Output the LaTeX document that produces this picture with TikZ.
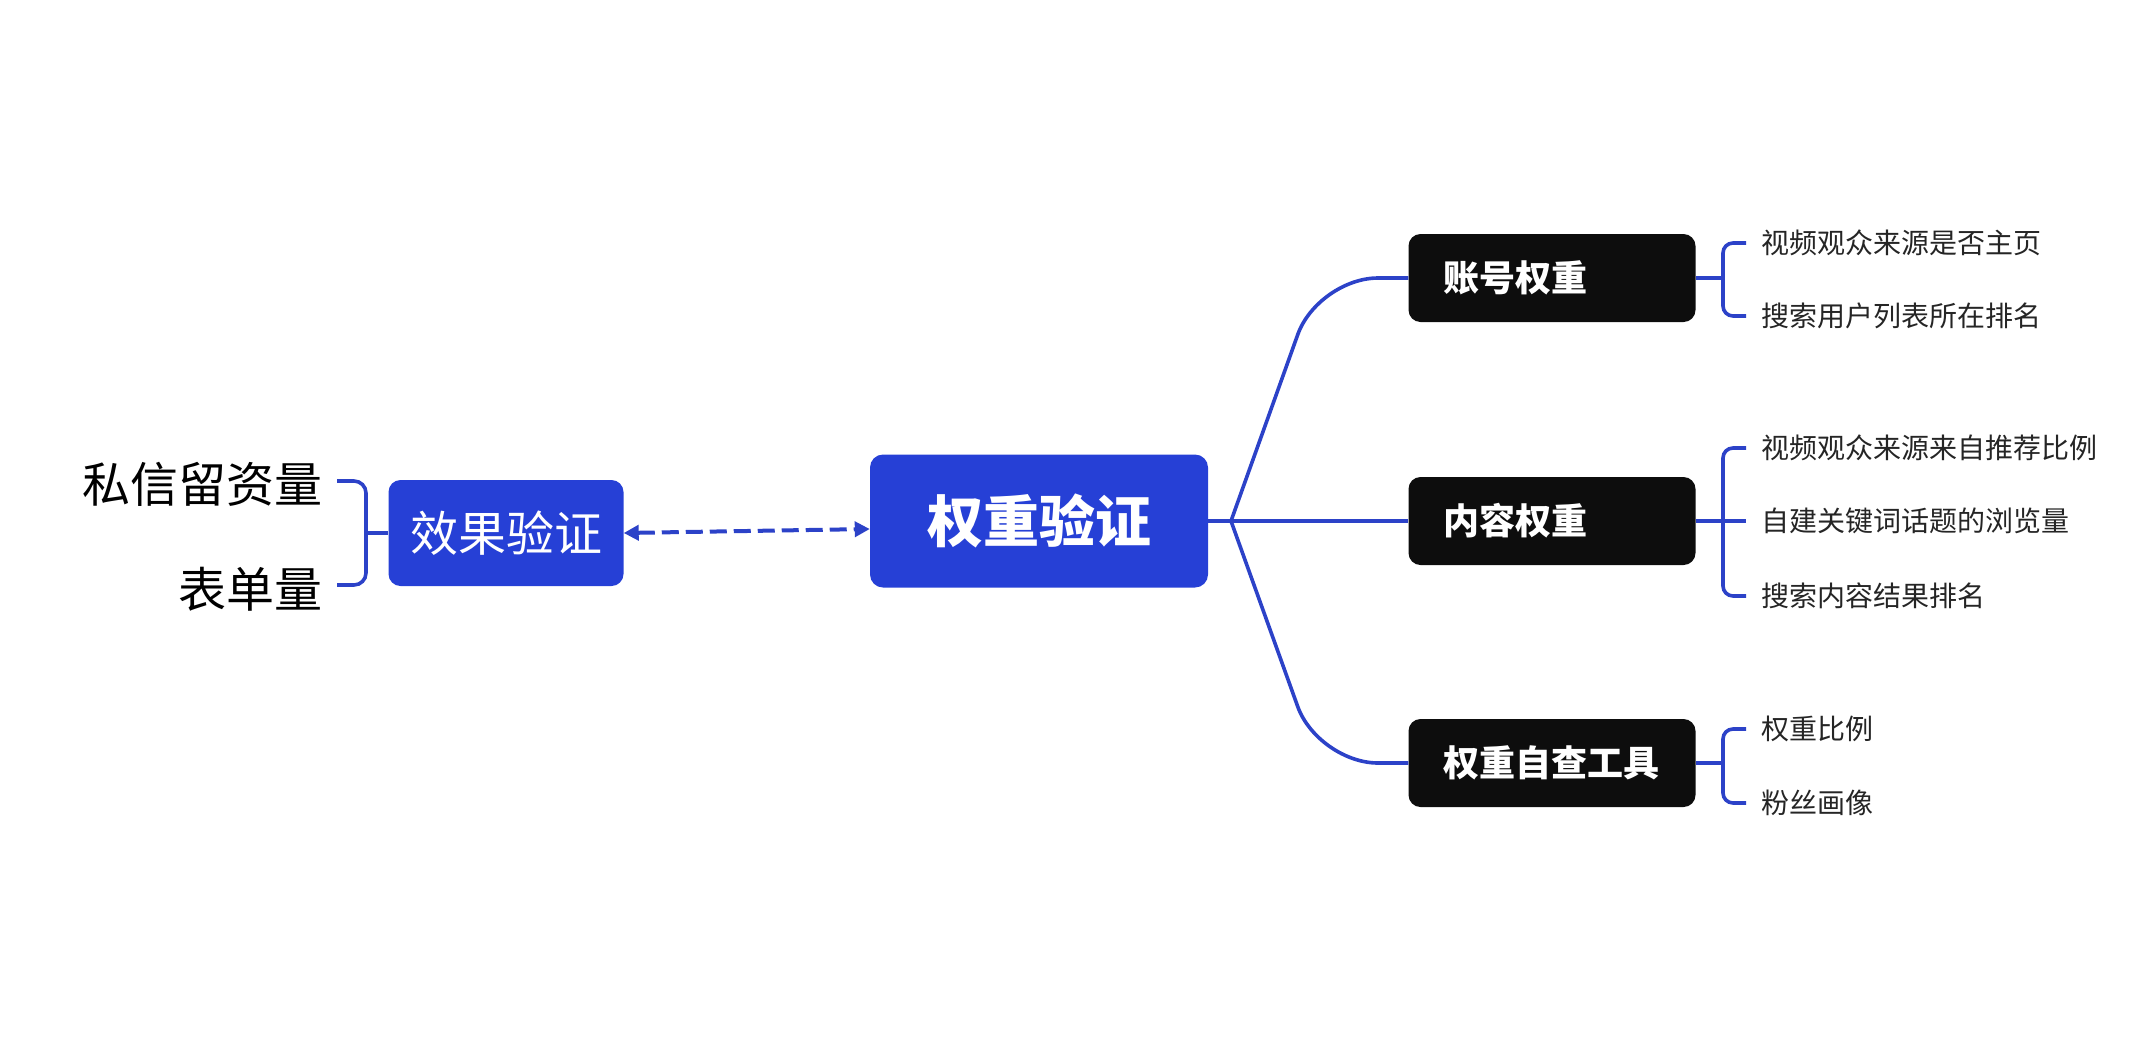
\documentclass[tikz,border=0pt]{standalone}
\usepackage{fontspec}
\setmainfont{Noto Sans CJK SC}
\usetikzlibrary{arrows.meta,calc}
\definecolor{blau}{RGB}{38,64,214}
\definecolor{linie}{RGB}{44,66,200}
\definecolor{schwarz}{RGB}{13,13,13}

\begin{document}
\begin{tikzpicture}[x=1pt,y=-1pt,
  blaubox/.style={fill=blau,rounded corners=13pt,text=white,inner sep=0pt},
  schwarzbox/.style={fill=schwarz,rounded corners=12pt,text=white,minimum height=88pt,text width=217pt,inner xsep=35pt,inner ysep=0pt,align=left,font=\fontsize{36}{40}\selectfont\bfseries},
  blatt/.style={text=schwarz!90,inner sep=0pt,anchor=west,font=\fontsize{28}{32}\selectfont},
  ast/.style={draw=linie,line width=3.6pt}]

\useasboundingbox (0,0) rectangle (2137,1045);

%Mitte
\node[blaubox,minimum width=338pt,minimum height=133pt,font=\fontsize{56}{60}\selectfont\bfseries] (gewicht) at (1039,521) {权重验证};

%links
\node[blaubox,rounded corners=12pt,minimum width=235pt,minimum height=106pt,font=\fontsize{48}{52}\selectfont] (effekt) at (506,533) {效果验证};
\node[anchor=east,inner sep=0pt,font=\fontsize{48}{52}\selectfont] (privat) at (323,484) {私信留资量};
\node[anchor=east,inner sep=0pt,font=\fontsize{48}{52}\selectfont] (formular) at (323,589) {表单量};

\coordinate (kl1) at (337,481);
\coordinate (kl2) at (337,585);
\coordinate (klm) at (366,533);
\draw[ast,rounded corners=12pt] (kl1) -- (kl1 -| klm) -- (kl2 -| klm) -- (kl2);
\draw[ast] (klm) -- (effekt.west);

\draw[ast,line width=4pt,dash pattern=on 17pt off 7pt,{Triangle[length=15pt,width=15pt]}-{Triangle[length=15pt,width=15pt]}] (effekt.east) -- ($(gewicht.west)+(0,8)$);

%rechts
\coordinate (gabel) at (1231,521);
\node[schwarzbox] (konto) at (1552,278) {账号权重};
\node[schwarzbox] (inhalt) at (1552,521) {内容权重};
\node[schwarzbox] (werkzeug) at (1552,763) {权重自查工具};

\draw[ast] (gewicht.east) -- (gabel) -- (inhalt.west);
\coordinate (knick1) at (1318,278);
\coordinate (knick2) at (1318,763);
\draw[ast,rounded corners=60pt] (gabel) -- (knick1) -- (konto.west);
\draw[ast,rounded corners=60pt] (gabel) -- (knick2) -- (werkzeug.west);

\node[blatt] (k1) at (1761,243) {视频观众来源是否主页};
\node[blatt] (k2) at (1761,316) {搜索用户列表所在排名};
\node[blatt] (i1) at (1761,448) {视频观众来源来自推荐比例};
\node[blatt] (i2) at (1761,521) {自建关键词话题的浏览量};
\node[blatt] (i3) at (1761,596) {搜索内容结果排名};
\node[blatt] (w1) at (1761,729) {权重比例};
\node[blatt] (w2) at (1761,803) {粉丝画像};

%Klammern
\newcommand\klammer[2]{\draw[ast,rounded corners=10pt] ($(#1.west)+(-15,0)$) -- ($(#1.west)+(-38,0)$) -- ($(#2.west)+(-38,0)$) -- ($(#2.west)+(-15,0)$);}
\klammer{k1}{k2}
\klammer{i1}{i3}
\klammer{w1}{w2}
\draw[ast] (konto.east) -- ($(konto.east)+(27,0)$);
\draw[ast] (inhalt.east) -- ($(i2.west)+(-15,0)$);
\draw[ast] (werkzeug.east) -- ($(werkzeug.east)+(27,0)$);

\end{tikzpicture}
\end{document}
